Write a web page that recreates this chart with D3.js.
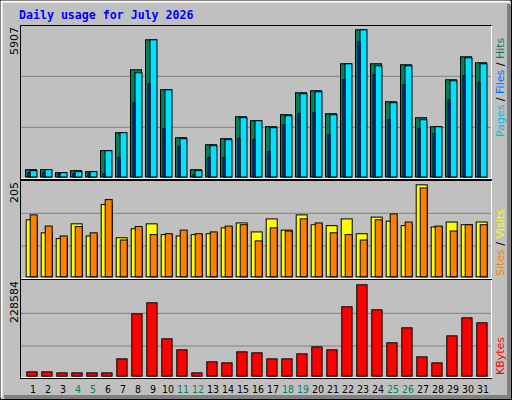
<!DOCTYPE html>
<html><head><meta charset="utf-8">
<script src="https://cdn.jsdelivr.net/npm/d3@7"></script>
<style>body{margin:0;background:#fff}svg{display:block}</style>
</head><body>
<script>
const days = d3.range(1,32);
const weekend = [4,5,11,12,18,19,25,26];
const hits  = [294,294,174,254,214,1056,1777,4303,5506,3501,1577,294,1296,1537,2419,2259,2018,2499,3381,3461,2539,4544,5907,4544,3020,4504,2379,2018,3902,4824,4584];
const files = [254,294,174,214,214,1056,1777,4183,5506,3501,1537,254,1256,1497,2379,2259,1978,2459,3341,3421,2499,4544,5907,4463,2980,4463,2299,2018,3862,4784,4544];
const pages = [174,174,134,134,134,134,775,2980,3742,1938,1216,94,775,775,1537,1497,1016,2098,2539,2579,1697,3902,5426,4103,2299,3702,1938,1737,3100,4063,3782];
const visits= [127,98,85,118,91,161,87,107,118,94,91,94,96,109,120,100,129,104,138,116,114,129,96,133,124,114,205,111,122,116,122];
const sites = [138,113,91,112,98,172,82,112,94,96,104,96,100,113,116,80,109,102,129,120,98,94,82,127,140,122,198,113,102,116,116];
const kbytes= [10845,10845,8343,8343,8343,8343,43378,156000,183583,93491,65963,8343,35871,33368,60958,58455,43378,43378,55891,73408,65963,173570,228584,166010,83478,121023,48380,33368,100938,146007,133494];
const maxLabels = ["5907","205","228584"];

const W=512,H=400;
const svg=d3.select("body").append("svg").attr("width",W).attr("height",H);
svg.append("rect").attr("width",W).attr("height",H).attr("fill","#c0c0c0");
svg.append("rect").attr("x",507).attr("y",4).attr("width",5).attr("height",396).attr("fill","#808080");
svg.append("rect").attr("x",4).attr("y",395).attr("width",508).attr("height",5).attr("fill","#808080");
svg.append("rect").attr("x",0.5).attr("y",0.5).attr("width",W-1).attr("height",H-1).attr("fill","none").attr("stroke","#000");
svg.append("path").attr("d","M1.5,398V1.5H510").attr("stroke","#fff").attr("stroke-width",2).attr("fill","none");

svg.append("text").attr("x",19).attr("y",19).attr("font-family","DejaVu Sans Mono").attr("font-weight","bold")
  .attr("font-size",11.6).attr("fill","#0000ff").text("Daily usage for July 2026");

const x = d3.scaleLinear().domain([1,31]).range([25,475]);
const L=20,R=491;
const panels=[{top:25,bot:179,base:176.5,maxY:29.3,max:5907,grid:[76.3,127.3]},
              {top:180,bot:279,base:276.3,maxY:184.3,max:205,grid:[213.3,246]},
              {top:279,bot:378,base:375.7,maxY:284.3,max:228584,grid:[313.3,346]}];
panels.forEach((p,i)=>{
  p.y=d3.scaleLinear().domain([0,p.max]).range([p.base,p.maxY]);
  svg.append("path").attr("d",`M${L+0.5},${p.bot}V${p.top+0.5}H${R+0.5}`).attr("stroke","#000").attr("fill","none");
  svg.append("path").attr("d",`M${L+1},${p.bot-0.5}H${R+0.5}V${p.top+1}`).attr("stroke","#fff").attr("fill","none");
  svg.append("path").attr("d",`M${L},${p.bot+0.5}H${R+1}`).attr("stroke","#000").attr("fill","none");
  p.grid.forEach(g=>svg.append("line").attr("x1",L+1).attr("x2",R).attr("y1",g).attr("y2",g).attr("stroke","#808080"));
  svg.append("text").attr("transform",`translate(18,${p.top+2}) rotate(-90)`).attr("text-anchor","end")
    .attr("font-family","DejaVu Sans").attr("font-size",11).attr("fill","#000").text(maxLabels[i]);
});
function bars(data,p,dx,w,color){
  svg.append("g").selectAll("rect").data(data).join("rect")
    .attr("x",(d,i)=>x(i+1)+dx+0.5).attr("y",d=>p.y(d)+0.5).attr("width",w)
    .attr("height",d=>Math.max(0,p.base-p.y(d))).attr("fill",color).attr("stroke","#000");
}
bars(hits,panels[0],0,11,"#00805c");
bars(files,panels[0],4.5,7,"#00e0ff");
bars(pages,panels[0],2.5,2,"#0040ff");
bars(visits,panels[1],0.7,11,"#ffff00");
bars(sites,panels[1],4.7,7,"#ff8000");
bars(kbytes,panels[2],1.3,10.3,"#ff0000");

svg.append("g").selectAll("text").data(days).join("text")
  .attr("x",d=>x(d)+8).attr("y",393).attr("text-anchor","middle")
  .attr("font-family","DejaVu Sans Condensed, DejaVu Sans").attr("font-stretch","condensed").attr("font-size",10.5)
  .attr("fill",d=>weekend.includes(d)?"#008060":"#000").text(d=>d);

function rlabel(y,parts){
  const t=svg.append("text").attr("transform",`translate(504,${y}) rotate(-90)`)
    .attr("font-family","DejaVu Sans").attr("font-size",11);
  parts.forEach(([s,c])=>t.append("tspan").attr("fill",c).text(s));
}
rlabel(137,[["Pages","#00c0e0"],[" / ","#000"],["Files","#0070ff"],[" / ","#000"],["Hits","#008060"]]);
rlabel(276,[["Sites","#ff8000"],[" / ","#000"],["Visits","#ffff00"]]);
rlabel(375,[["KBytes","#ff0000"]]);
</script>
</body></html>
